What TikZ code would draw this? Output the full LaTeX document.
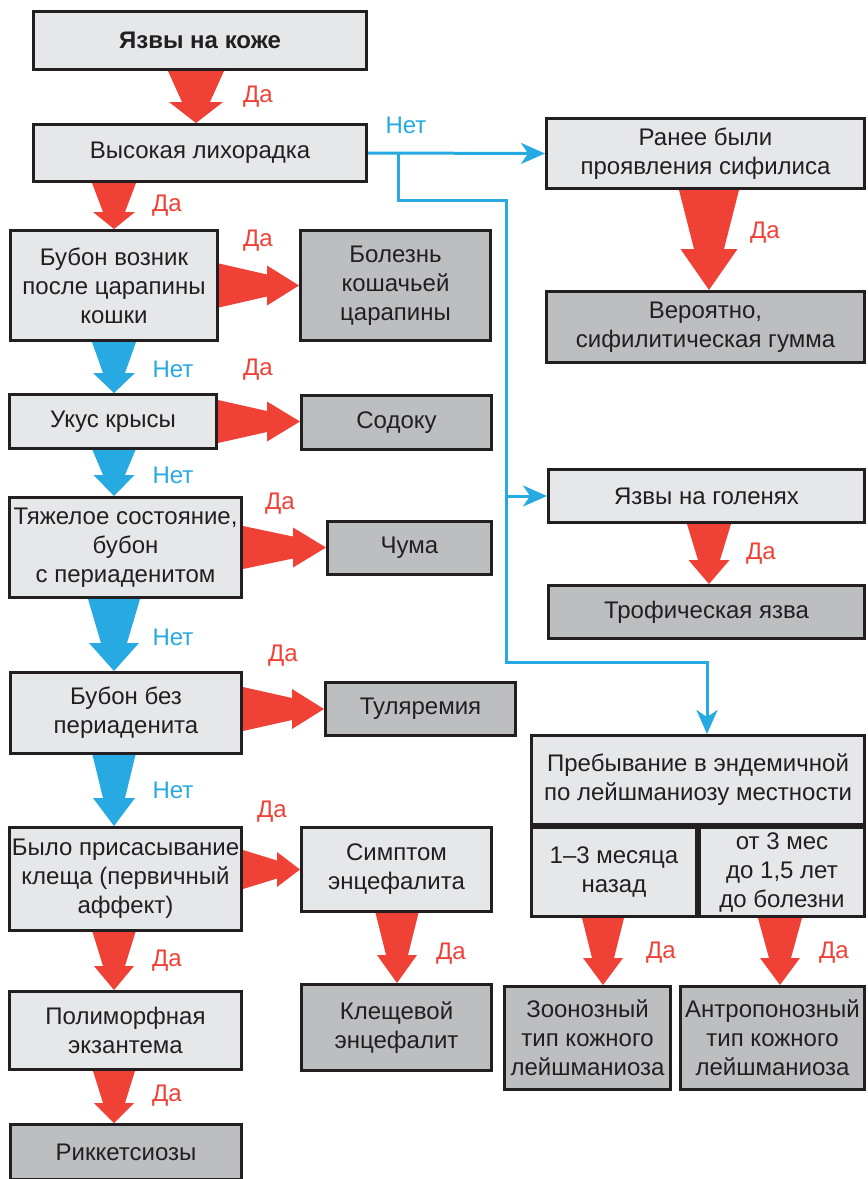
\documentclass[tikz,border=0pt]{standalone}
\usepackage{fontspec}
\setmainfont{Liberation Sans}
\usetikzlibrary{arrows.meta,calc}

\definecolor{boxlight}{HTML}{E6E7E8}
\definecolor{boxdark}{HTML}{BCBEC0}
\definecolor{ink}{HTML}{231F20}
\definecolor{yesred}{HTML}{EF4136}
\definecolor{noblue}{HTML}{27AAE1}

\pgfdeclarelayer{under}
\pgfsetlayers{under,main}

% Wide tapered arrow pointing down: colour, start, tip, start width, neck width, head width, head length
\newcommand\fatdown[7]{%
  \fill[#1] let \p1=#2, \p2=#3 in
    (\x1-#4/2,\y1) -- (\x1+#4/2,\y1) -- (\x1+#5/2,\y2+#7) -- (\x1+#6/2,\y2+#7)
    -- (\x1,\y2) -- (\x1-#6/2,\y2+#7) -- (\x1-#5/2,\y2+#7) -- cycle;}
% Wide tapered arrow pointing right: same arguments
\newcommand\fatright[7]{%
  \fill[#1] let \p1=#2, \p2=#3 in
    (\x1,\y1+#4/2) -- (\x2-#7,\y1+#5/2) -- (\x2-#7,\y1+#6/2) -- (\x2,\y1)
    -- (\x2-#7,\y1-#6/2) -- (\x2-#7,\y1-#5/2) -- (\x1,\y1-#4/2) -- cycle;}

\tikzset{
  txt/.style={font=\fontsize{24}{29}\selectfont},
  box/.style={txt, draw=ink, line width=2.6pt, text=ink, align=center, inner sep=0pt},
  qbox/.style={box, fill=boxlight},
  abox/.style={box, fill=boxdark},
  sz/.style 2 args={minimum width={#1pt-2.6pt}, minimum height={#2pt-2.6pt}},
  yes/.style={txt, text=yesred, inner sep=0pt},
  no/.style={txt, text=noblue, inner sep=0pt},
  link/.style={draw=noblue, line width=3pt},
  linkarrow/.style={link, -{Stealth[length=24pt,width=21pt,inset=7pt]}},
}

\begin{document}
\begin{tikzpicture}[x=1pt,y=-1pt]
\clip (0,0) rectangle (868,1179);

% left column
\node[qbox, sz={336}{61}, font=\fontsize{24}{29}\selectfont\bfseries] (n1) at (200,40.5) {Язвы на коже};
\node[qbox, sz={336}{60}] (n2) at (200,153) {Высокая лихорадка};
\node[qbox, sz={210}{113}] (n3) at (114,285.5) {Бубон возник\\после царапины\\кошки};
\node[abox, sz={193}{113}] (n4) at (395.5,285.5) {Болезнь\\кошачьей\\царапины};
\node[qbox, sz={210}{57}] (n5) at (113,421.5) {Укус крысы};
\node[abox, sz={193}{57}] (n6) at (396.5,422.5) {Содоку};
\node[qbox, sz={235}{103}] (n7) at (125.5,547.5) {Тяжелое состояние,\\бубон\\с периаденитом};
\node[abox, sz={167}{56}] (n8) at (409.5,548) {Чума};
\node[qbox, sz={234}{84}] (n9) at (126,713) {Бубон без\\периаденита};
\node[abox, sz={193}{56}] (n10) at (420.5,709) {Туляремия};
\node[qbox, sz={235}{106}] (n11) at (125.5,879) {Было присасывание\\клеща (первичный\\аффект)};
\node[qbox, sz={193}{87}] (n12) at (396.5,869.5) {Симптом\\энцефалита};
\node[qbox, sz={235}{81}] (n13) at (125.5,1030.5) {Полиморфная\\экзантема};
\node[abox, sz={193}{89}] (n14) at (396.5,1027.5) {Клещевой\\энцефалит};
\node[abox, sz={234}{58}] (n15) at (126,1152) {Риккетсиозы};

% right column
\node[qbox, sz={321}{73}] (n16) at (705.5,153.5) {Ранее были\\проявления сифилиса};
\node[abox, sz={321}{74}] (n17) at (705.5,327) {Вероятно,\\сифилитическая гумма};
\node[qbox, sz={319}{56}] (n18) at (706.5,496) {Язвы на голенях};
\node[abox, sz={319}{56}] (n19) at (706.5,612) {Трофическая язва};
\node[qbox, sz={336}{92}] (n20) at (698,780) {Пребывание в эндемичной\\по лейшманиозу местности};
\node[qbox, sz={168}{92}] (n20a) at (614,872) {1–3 месяца\\назад};
\node[qbox, sz={168}{92}] (n20b) at (782,872) {от 3 мес\\до 1,5 лет\\до болезни};
\node[abox, sz={169}{106}] (n21) at (587.5,1038) {Зоонозный\\тип кожного\\лейшманиоза};
\node[abox, sz={187}{106}] (n22) at (772.5,1038) {Антропонозный\\тип кожного\\лейшманиоза};

% arrow axes
\coordinate (ca) at (196,0);
\coordinate (cb) at (114,0);
\coordinate (cc) at (397,0);
\coordinate (cd) at (709,0);
\coordinate (ce) at (603,0);
\coordinate (cf) at (780,0);

\begin{pgfonlayer}{under}
\fatdown{yesred}{(n1.south -| ca)}{(n2.north -| ca)}{56pt}{28pt}{54pt}{21pt}
\fatdown{yesred}{(n2.south -| cb)}{(n3.north -| cb)}{44pt}{22pt}{42pt}{17pt}
\fatdown{noblue}{(n3.south -| cb)}{(n5.north -| cb)}{44pt}{22pt}{42pt}{20pt}
\fatdown{noblue}{(n5.south -| cb)}{(n7.north -| cb)}{43pt}{22pt}{41pt}{21pt}
\fatdown{noblue}{(n7.south -| cb)}{(n9.north -| cb)}{52pt}{26pt}{50pt}{28pt}
\fatdown{noblue}{(n9.south -| cb)}{(n11.north -| cb)}{43pt}{22pt}{42pt}{28pt}
\fatdown{yesred}{(n11.south -| cb)}{(n13.north -| cb)}{43pt}{22pt}{40pt}{24pt}
\fatdown{yesred}{(n13.south -| cb)}{(n15.north -| cb)}{42pt}{22pt}{40pt}{20pt}
\fatdown{yesred}{(n12.south -| cc)}{(n14.north -| cc)}{43pt}{22pt}{40pt}{28pt}
\fatdown{yesred}{(n16.south -| cd)}{(n17.north -| cd)}{60pt}{30pt}{57pt}{41pt}
\fatdown{yesred}{(n18.south -| cd)}{(n19.north -| cd)}{44pt}{22pt}{41pt}{24pt}
\fatdown{yesred}{(n20a.south -| ce)}{(n21.north -| ce)}{42pt}{22pt}{40pt}{27pt}
\fatdown{yesred}{(n20b.south -| cf)}{(n22.north -| cf)}{44pt}{22pt}{40pt}{27pt}

\fatright{yesred}{(n3.east)}{(n4.west)}{44pt}{22pt}{40pt}{32pt}
\fatright{yesred}{(n5.east)}{(n6.west)}{43pt}{21pt}{40pt}{33pt}
\fatright{yesred}{(n7.east)}{(n8.west)}{43pt}{22pt}{40pt}{33pt}
\fatright{yesred}{(n9.east |- n10.west)}{(n10.west)}{44pt}{22pt}{40pt}{32pt}
\fatright{yesred}{(n11.east |- n12.west)}{(n12.west)}{39pt}{18pt}{35pt}{23pt}
\end{pgfonlayer}

% "no" branch from the fever question
\coordinate (j1) at (398,153);
\coordinate (j2) at (398,200);
\coordinate (j3) at (506,662);
\coordinate (j4) at (707,0);
\coordinate (j5) at (506,496);
\draw[linkarrow] (n2.east) -- (n16.west);
\draw[linkarrow] (j1) -- (j2) -| (j3) -| (n20.north -| j4);
\draw[linkarrow] (j5) -- (n18.west);

% answers
\node[yes] (l1) at (258,97) {Да};
\node[no]  (l2) at (406,125) {Нет};
\node[yes] (l3) at (167,206) {Да};
\node[yes] (l4) at (258,241) {Да};
\node[yes] (l5) at (765,233) {Да};
\node[no]  (l6) at (173,369) {Нет};
\node[yes] (l7) at (258,370) {Да};
\node[no]  (l8) at (173,475) {Нет};
\node[yes] (l9) at (280,504) {Да};
\node[no]  (l10) at (173,637) {Нет};
\node[yes] (l11) at (283,656) {Да};
\node[no]  (l12) at (173,790) {Нет};
\node[yes] (l13) at (272,812) {Да};
\node[yes] (l14) at (167,961) {Да};
\node[yes] (l15) at (451,954) {Да};
\node[yes] (l16) at (167,1096) {Да};
\node[yes] (l17) at (761,554) {Да};
\node[yes] (l18) at (661,953) {Да};
\node[yes] (l19) at (834,953) {Да};
\end{tikzpicture}
\end{document}
